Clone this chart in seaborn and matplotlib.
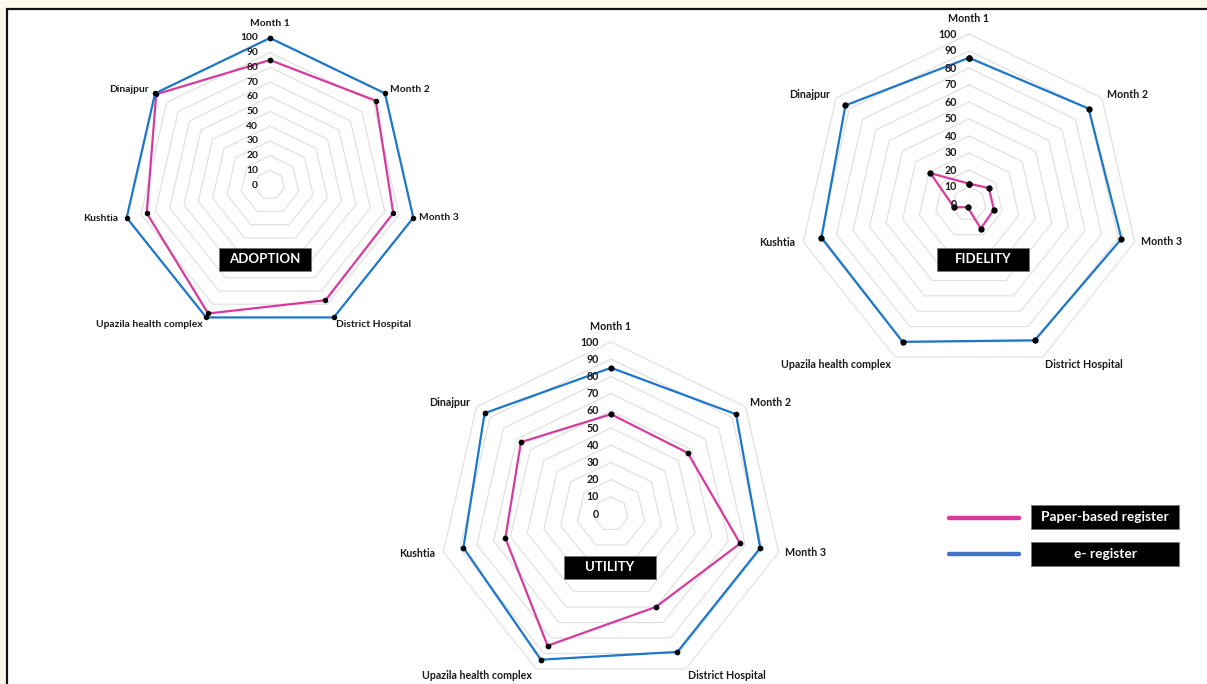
import numpy as np
import pandas as pd
import matplotlib
matplotlib.use("Agg")
import matplotlib.pyplot as plt
import seaborn as sns
from matplotlib.patches import Rectangle
from matplotlib.lines import Line2D

# ---- data -----------------------------------------------------------------
categories = ["Month 1", "Month 2", "Month 3", "District Hospital",
              "Upazila health complex", "Kushtia", "Dinajpur"]
series_names = ["Paper-based register", "e- register"]
ring_levels = [0, 10, 20, 30, 40, 50, 60, 70, 80, 90, 100]

adoption_paper = [85, 92, 86, 87, 97, 86, 99]
adoption_e = [100, 100, 100, 100, 100, 100, 100]

fidelity_paper = [12, 15, 15, 16, 2, 9, 29]
fidelity_e = [86, 90, 92, 89, 90, 89, 93]

utility_paper = [58, 57, 77, 60, 85, 63, 67]
utility_e = [85, 93, 89, 89, 94, 88, 94]

# ---- styling ----------------------------------------------------------------
W, H = 1207, 684
PINK = "#D63A9F"
BLUE = "#1C76C9"
LEGEND_BLUE = "#4472C4"
GRID = "#DEDEDE"
CREAM = "#FBF8EB"
TEXT = "#1a1a1a"

sns.set_theme(style="white")
plt.rcParams["font.family"] = ["Lato", "DejaVu Sans"]

fig = plt.figure(figsize=(W / 100, H / 100), dpi=100, facecolor=CREAM)


def fx(x):
    return x / W


def fy(y):
    return 1 - y / H


# white sheet with a dark frame on its top and left edges
fig.add_artist(Rectangle((fx(7), fy(700)), fx(1220) - fx(7), fy(9) - fy(700),
                         transform=fig.transFigure, facecolor="white",
                         edgecolor="#111111", linewidth=1.6, zorder=0))

n = len(categories)
theta = np.linspace(0, 2 * np.pi, n, endpoint=False)
theta_closed = np.append(theta, 2 * np.pi)

# label offsets (pixels) from each spoke's 100 vertex, with alignment
label_layout = [
    ((0, 15), "center"),
    ((5, 4), "left"),
    ((6, 0), "left"),
    ((2, -7), "left"),
    ((-4, -7), "right"),
    ((-8, -1), "right"),
    ((-6, 4), "right"),
]


def radar(title, paper, ereg, cx, cy, R, fs, ms, box_center):
    pad = 1.12
    ax = fig.add_axes([fx(cx - pad * R), fy(cy + pad * R),
                       2 * pad * R / W, 2 * pad * R / H],
                      projection="polar")
    ax.set_facecolor("none")
    ax.set_theta_zero_location("N")
    ax.set_theta_direction(-1)
    ax.set_ylim(0, 100 * pad)
    ax.grid(False)
    ax.set_xticks([])
    ax.set_yticks([])
    ax.spines["polar"].set_visible(False)

    # heptagonal gridlines
    for lvl in ring_levels[1:]:
        ax.plot(theta_closed, [lvl] * (n + 1), color=GRID, lw=0.8, zorder=1)

    df = pd.DataFrame({
        "theta": np.concatenate([theta_closed, theta_closed]),
        "value": list(paper) + [paper[0]] + list(ereg) + [ereg[0]],
        "series": [series_names[0]] * (n + 1) + [series_names[1]] * (n + 1),
    })
    sns.lineplot(data=df, x="theta", y="value", hue="series",
                 palette={series_names[0]: PINK, series_names[1]: BLUE},
                 sort=False, estimator=None, legend=False, ax=ax,
                 lw=1.6, marker="o", markersize=ms,
                 markerfacecolor="black", markeredgecolor="black", zorder=3)
    ax.set_xlabel("")
    ax.set_ylabel("")

    # value scale along the first spoke
    for lvl in ring_levels:
        ax.annotate(str(lvl), xy=(0, lvl), xytext=(-12, 0),
                    textcoords="offset pixels", ha="right", va="center",
                    fontsize=fs, fontweight="bold", color=TEXT,
                    annotation_clip=False)

    # category names
    for ang, name, (off, ha) in zip(theta, categories, label_layout):
        ax.annotate(name, xy=(ang, 100), xytext=off,
                    textcoords="offset pixels", ha=ha, va="center",
                    fontsize=fs, fontweight="bold", color=TEXT,
                    annotation_clip=False)

    # black title tag
    bx, by = box_center
    bw, bh = 92, 23
    fig.add_artist(Rectangle((fx(bx - bw / 2), fy(by + bh / 2)), bw / W, bh / H,
                             transform=fig.transFigure, facecolor="black",
                             edgecolor="#777777", lw=0.6, zorder=5))
    fig.text(fx(bx), fy(by), title, ha="center", va="center", color="white",
             fontsize=9.5, fontweight="bold", zorder=6)


radar("ADOPTION", adoption_paper, adoption_e, 270, 185, 147, 7.4, 3.2, (265, 259))
radar("FIDELITY", fidelity_paper, fidelity_e, 969, 204, 170, 7.7, 3.8, (983, 259))
radar("UTILITY", utility_paper, utility_e, 611, 514, 172, 7.7, 3.4, (610, 567))

# legend
legend_items = [(series_names[0], PINK, 518, 517), (series_names[1], LEGEND_BLUE, 554, 554)]
for name, col, ly, ty in legend_items:
    fig.add_artist(Line2D([fx(949), fx(1019)], [fy(ly), fy(ly)],
                          transform=fig.transFigure, color=col, lw=3.2))
    fig.add_artist(Rectangle((fx(1031), fy(ty + 12)), 148 / W, 24 / H,
                             transform=fig.transFigure, facecolor="black",
                             edgecolor="#777777", lw=0.6, zorder=5))
    fig.text(fx(1105), fy(ty), name, ha="center", va="center", color="white",
             fontsize=9.9, fontweight="bold", zorder=6)

fig.savefig("out.png", dpi=100, facecolor=CREAM)
